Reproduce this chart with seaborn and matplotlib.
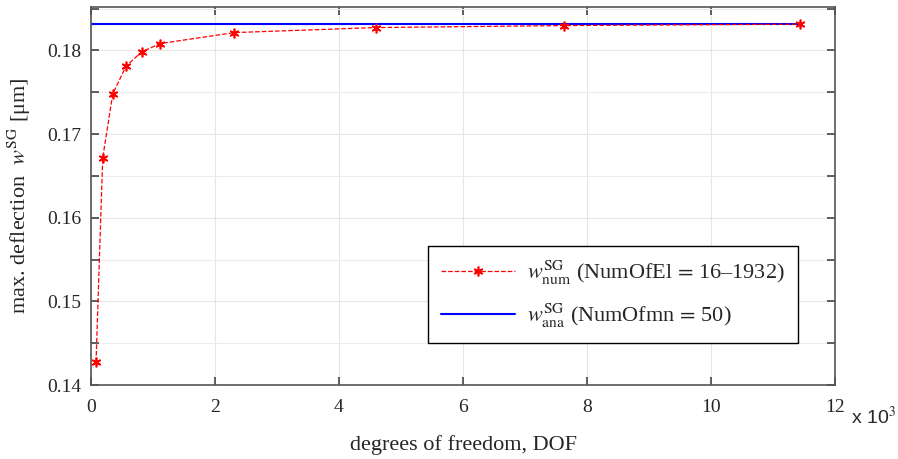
import matplotlib
matplotlib.use("Agg")
import matplotlib.pyplot as plt
import seaborn as sns
import numpy as np
import pandas as pd
from matplotlib.ticker import MultipleLocator

# Data (DOF in thousands)
dof_k = [0.081, 0.189, 0.351, 0.567, 0.825, 1.118, 2.31, 4.59, 7.63, 11.44]
w_num = [0.14272, 0.16715, 0.17481, 0.17816, 0.17987, 0.18083, 0.18214, 0.18274, 0.18298, 0.18315]
w_ana = 0.18318
ana_x = [0.0, 11.44]

num_label = r"$w^{\mathrm{SG}}_{\mathrm{num}}$ (NumOfEl$\,=\,$16–1932)"
ana_label = r"$w^{\mathrm{SG}}_{\mathrm{ana}}$ (NumOfmn$\,=\,$50)"

sns.set_style("ticks")
plt.rcParams['font.family'] = ['Liberation Serif', 'DejaVu Serif']
plt.rcParams['mathtext.fontset'] = 'stix'

fig = plt.figure(figsize=(8.98, 4.59), dpi=100)
ax = fig.add_axes([91/898, 1-385/459, (835-91)/898, (385-7)/459])

df_num = pd.DataFrame({"x": dof_k, "y": w_num})
df_ana = pd.DataFrame({"x": ana_x, "y": [w_ana, w_ana]})

sns.lineplot(data=df_num, x="x", y="y", ax=ax, color="red", linestyle="--",
             linewidth=0.9, marker=(6, 2, 0), markersize=7, markeredgecolor="red",
             markeredgewidth=1.2, markerfacecolor="red", label=num_label, zorder=3)
sns.lineplot(data=df_ana, x="x", y="y", ax=ax, color="blue", linestyle="-",
             linewidth=1.5, label=ana_label, zorder=2)

ax.set_xlim(0, 12)
ax.set_ylim(0.14, 0.1852)
ax.xaxis.set_major_locator(MultipleLocator(2))
ax.yaxis.set_minor_locator(MultipleLocator(0.005))
ax.set_yticks([0.14, 0.15, 0.16, 0.17, 0.18])
ax.set_yticklabels(["0.14", "0.15", "0.16", "0.17", "0.18"])

ax.grid(True, which="major", color="#e6e6e6", linewidth=0.8)
ax.grid(True, which="minor", axis="y", color="#ececec", linewidth=0.8)
ax.set_axisbelow(True)

ax.tick_params(which="both", direction="in", top=True, right=True,
               color="#444444", labelsize=14, length=6, width=1.2)
ax.tick_params(axis="x", which="both", pad=10)
ax.tick_params(axis="y", which="both", pad=7)
for s in ax.spines.values():
    s.set_color("#555555")
    s.set_linewidth(1.2)

ax.set_xlabel("degrees of freedom, DOF", fontsize=16, labelpad=14)
ax.set_ylabel(r"max. deflection  $w^{\mathrm{SG}}$ [μm]", fontsize=16, labelpad=10)

fig.text(851/898, 1-417/459, r"x 10$^3$", fontsize=14,
         family=['Liberation Sans', 'DejaVu Sans'], ha="left", va="center")

leg = ax.legend(loc="lower right", bbox_to_anchor=(0.950, 0.111), fontsize=16,
                frameon=True, fancybox=False, framealpha=1, edgecolor="black",
                borderaxespad=0, handlelength=3.3, labelspacing=0.65,
                borderpad=0.6, handletextpad=0.55)
leg.get_frame().set_linewidth(1.0)

fig.savefig("out.png", dpi=100)
